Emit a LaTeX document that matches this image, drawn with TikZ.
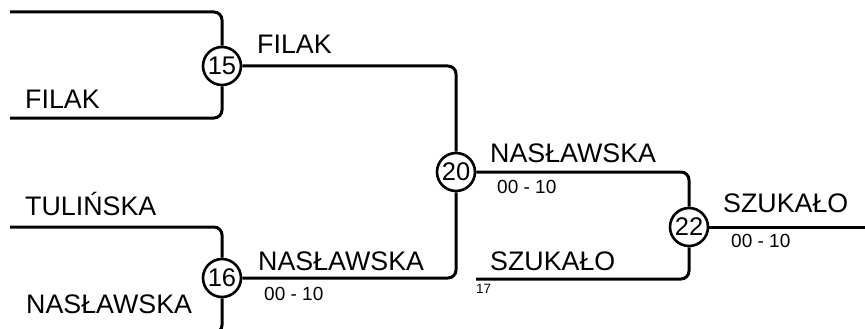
\documentclass[tikz,border=0pt]{standalone}
\usepackage{fontspec}
\setmainfont{Liberation Sans}
\begin{document}
\begin{tikzpicture}[x=1pt,y=-1pt,
  junction/.style={circle,draw,line width=2.6pt,fill=white,inner sep=0pt,minimum size=38pt,font=\fontsize{25.5}{25.5}\selectfont},
  road/.style={line width=3pt,rounded corners=8pt},
  big/.style={anchor=base west,inner sep=0pt,font=\fontsize{26.8}{26.8}\selectfont},
  small/.style={anchor=base west,inner sep=0pt,font=\fontsize{19}{19}\selectfont},
  tiny/.style={anchor=base west,inner sep=0pt,font=\fontsize{13.5}{13.5}\selectfont}]
\useasboundingbox (0,0) rectangle (865,329);
\clip (0,0) rectangle (865,329);
\node[junction] (c15) at (222,66) {15};
\node[junction] (c16) at (222,278) {16};
\node[junction] (c20) at (456,172) {20};
\node[junction] (c22) at (689,227) {22};
\coordinate (a1) at (10,12);
\coordinate (a2) at (10,118);
\coordinate (b1) at (10,227);
\coordinate (b2) at (10,333);
\coordinate (d1) at (476,279);
\coordinate (e1) at (870,227);
\draw[road] (a1) -| (c15.north);
\draw[road] (a2) -| (c15.south);
\draw[road] (b1) -| (c16.north);
\draw[road] (b2) -| (c16.south);
\draw[road] (c15.east) -| (c20.north);
\draw[road] (c16.east) -| (c20.south);
\draw[road] (c20.east) -| (c22.north);
\draw[road] (d1) -| (c22.south);
\draw[road] (c22.east) -- (e1);
\node[big] (t1) at (257,54) {FILAK};
\node[big] (t2) at (25,108) {FILAK};
\node[big] (t3) at (25,215) {TULIŃSKA};
\node[big] (t4) at (258,270) {NASŁAWSKA};
\node[small] (s1) at (264,300) {00 - 10};
\node[big] (t5) at (26,313) {NASŁAWSKA};
\node[big] (t6) at (490,162) {NASŁAWSKA};
\node[small] (s2) at (497,193) {00 - 10};
\node[big] (t7) at (490,270) {SZUKAŁO};
\node[tiny] (s3) at (476,293) {17};
\node[big] (t8) at (723,212) {SZUKAŁO};
\node[small] (s4) at (731,247) {00 - 10};
\end{tikzpicture}
\end{document}
